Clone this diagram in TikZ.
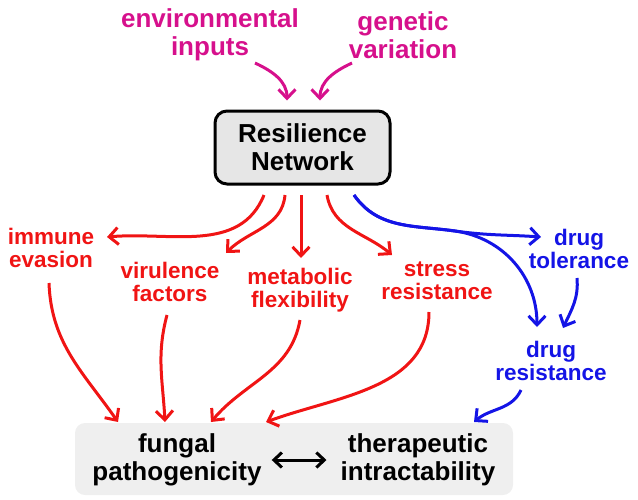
\documentclass[tikz,border=0pt]{standalone}
\usepackage{fontspec}
\setmainfont{Liberation Sans}
\usetikzlibrary{arrows.meta}
\definecolor{mag}{HTML}{D6108C}
\definecolor{rd}{HTML}{F01414}
\definecolor{bl}{HTML}{1414E6}
\definecolor{boxa}{HTML}{E6E6E6}
\definecolor{boxb}{HTML}{EFEFEF}
\begin{document}
\begin{tikzpicture}[x=1pt,y=1pt,
  big/.style={align=center,inner sep=0pt,font=\fontsize{26}{28}\selectfont\bfseries},
  small/.style={align=center,inner sep=0pt,font=\fontsize{22.5}{23.5}\selectfont\bfseries},
  arr/.style={line width=3pt,-{Straight Barb[length=9pt,width=17pt]}},
  darr/.style={line width=3pt,{Straight Barb[length=8pt,width=15pt]}-{Straight Barb[length=8pt,width=15pt]}}]
\useasboundingbox (0,0) rectangle (638,-499);
% nodes
\node[big,text=mag] (env) at (210,-35) {environmental\\inputs};
\node[big,text=mag] (gen) at (403,-35) {genetic\\variation};
\node[big,draw=black,line width=3pt,fill=boxa,rounded corners=12pt,
      minimum width=175pt,minimum height=73pt] (res) at (302.5,-147.5) {Resilience\\Network};
\node[small,text=rd] (imm) at (51,-248) {immune\\evasion};
\node[small,text=rd] (vir) at (170,-282) {virulence\\factors};
\node[small,text=rd] (met) at (300,-290) {metabolic\\flexibility};
\node[small,text=rd] (str) at (437,-281) {stress\\resistance};
\node[small,text=bl] (tol) at (579,-249) {drug\\tolerance};
\node[small,text=bl] (drr) at (551,-361) {drug\\resistance};
\node[fill=boxb,rounded corners=10pt,minimum width=438pt,minimum height=72pt,inner sep=0pt] (bot) at (294,-459) {};
\node[big] (fun) at (177,-460) {fungal\\pathogenicity};
\node[big] (the) at (418,-460) {therapeutic\\intractability};
% magenta inputs
\draw[arr,mag] ([shift={(45,-28)}]env.center) to[out=-25,in=90] ([shift={(-15.5,47)}]res.center);
\draw[arr,mag] ([shift={(-51,-28)}]gen.center) to[out=205,in=90] ([shift={(17.5,47)}]res.center);
% red outputs
\draw[arr,rd] ([shift={(-38.5,-47.5)}]res.center) to[out=-112,in=5] ([shift={(56,11)}]imm.center);
\draw[arr,rd] ([shift={(-17.5,-47.5)}]res.center) to[out=-95,in=45] ([shift={(56,29)}]vir.center);
\draw[arr,rd] ([shift={(-1.5,-47.5)}]res.center) -- ([shift={(1,32)}]met.center);
\draw[arr,rd] ([shift={(24.5,-47.5)}]res.center) to[out=-80,in=140] ([shift={(-45,26)}]str.center);
% blue outputs
\coordinate (branch) at (455,-231);
\draw[arr,bl] ([shift={(51.5,-47.5)}]res.center) to[out=-55,in=172] (branch) to[out=-8,in=176] ([shift={(-38,12)}]tol.center);
\draw[arr,bl] ([shift={(51.5,-47.5)}]res.center) to[out=-55,in=172] (branch) to[out=-8,in=90] ([shift={(-14,34)}]drr.center);
\draw[arr,bl] ([shift={(-2,-29)}]tol.center) to[out=-85,in=65] ([shift={(12,33)}]drr.center);
% to bottom box
\draw[arr,rd] ([shift={(-2,-35)}]imm.center) to[out=-88,in=125] ([shift={(-176,37)}]bot.center);
\draw[arr,rd] ([shift={(-3,-33)}]vir.center) to[out=-105,in=93] ([shift={(-129,37)}]bot.center);
\draw[arr,rd] ([shift={(0,-30)}]met.center) to[out=-100,in=50] ([shift={(-83,37)}]bot.center);
\draw[arr,rd] ([shift={(-8,-31)}]str.center) to[out=-90,in=20] ([shift={(-28,37)}]bot.center);
\draw[arr,bl] ([shift={(-30,-29)}]drr.center) to[out=-115,in=40] ([shift={(180,37)}]bot.center);
% double arrow
\draw[darr,black] ([xshift=10pt]fun.east) -- ([xshift=-14pt]the.west);
\end{tikzpicture}
\end{document}
